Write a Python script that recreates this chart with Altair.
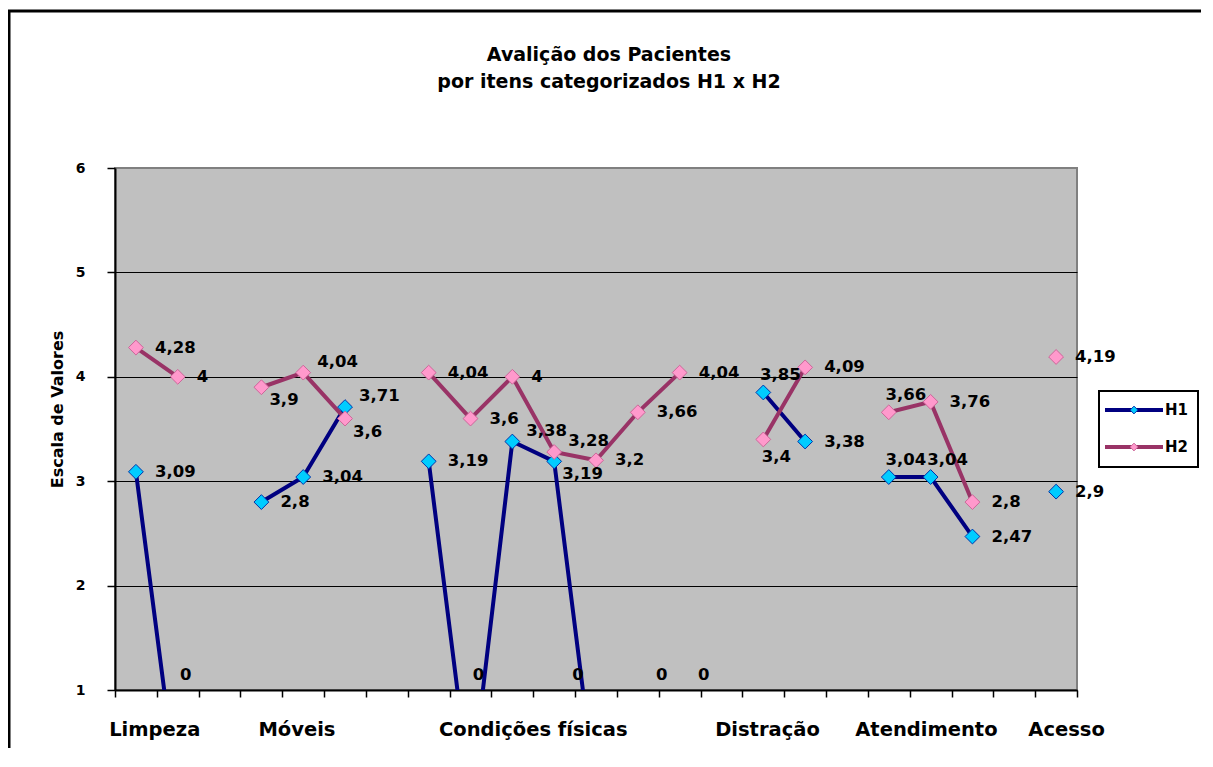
import altair as alt
import pandas as pd

# ---------------- data ----------------
SERIES = ["H1", "H2"]
N_CATS = 23
H1 = [3.09, 0, None, 2.8, 3.04, 3.71, None, 3.19, 0, 3.38, 3.19, 0, 0, 0, None,
      3.85, 3.38, None, 3.04, 3.04, 2.47, None, 2.9]
H2 = [4.28, 4, None, 3.9, 4.04, 3.6, None, 4.04, 3.6, 4, 3.28, 3.2, 3.66, 4.04, None,
      3.4, 4.09, None, 3.66, 3.76, 2.8, None, 4.19]
GROUPS = ["Limpeza", "Móveis", "Condições físicas", "Distração", "Atendimento", "Acesso"]
GROUP_POS = [0.95, 4.35, 10.0, 15.6, 19.4, 22.75]
Y_TICKS = [1, 2, 3, 4, 5, 6]

# label placement (layout only)
H1_PLACE = ["r", "z", "", "r", "r", "ru", "", "r", "z", "ru", "rd", "zl", "zr", "zr", "",
            "a", "r", "", "a", "a", "r", "", "r"]
H2_PLACE = ["r", "r", "", "rd", "ru", "rd", "", "r", "r", "r", "ru", "r", "r", "r", "",
            "b", "r", "", "a", "r", "r", "", "r"]
PLACEMENTS = {
    "r": ("left", 19, 0),
    "ru": ("left", 14, -11),
    "rd": ("left", 8, 13),
    "a": ("center", 17, -17),
    "b": ("center", 13, 18),
    "z": ("center", 8, -15),
    "zl": ("center", -18, -15),
    "zr": ("center", 24, -15),
}

LINE_COLORS = ["#000080", "#993366"]
MARK_FILL = ["#00CCFF", "#FF99CC"]
MARK_STROKE = ["#0033AA", "#CC6699"]
FONT = "DejaVu Sans"

rows = []
for s, vals, pl in (("H1", H1, H1_PLACE), ("H2", H2, H2_PLACE)):
    for i, v in enumerate(vals):
        rows.append({"series": s, "idx": i, "value": v, "place": pl[i]})
df = pd.DataFrame(rows)
groups_df = pd.DataFrame({"name": GROUPS, "pos": GROUP_POS})

W, H = 962, 522

xscale = alt.Scale(domain=[0, N_CATS], nice=False, zero=False)
yscale = alt.Scale(domain=[1, 6], nice=False, zero=False)

x_axis = alt.Axis(values=list(range(N_CATS + 1)), labels=False, ticks=True, tickSize=7,
                  tickColor="black", tickWidth=1.5, domainColor="black", domainWidth=2,
                  grid=False, title=None)
y_axis = alt.Axis(values=Y_TICKS, tickSize=8, tickColor="black", tickWidth=1.5,
                  domainColor="black", domainWidth=2, grid=True,
                  gridColor={"condition": {"test": "datum.value === 6", "value": "#808080"},
                             "value": "#000000"},
                  gridWidth=1, gridOpacity=1, labelFont=FONT, labelFontSize=14,
                  labelFontWeight="bold", labelColor="black", labelPadding=22,
                  title="Escala de Valores", titleFont=FONT, titleFontSize=16,
                  titleFontWeight="bold", titleColor="black", titleX=-58, titleY=241,
                  titleAngle=270, titleAlign="center", titleBaseline="middle")

X = dict(scale=xscale, axis=x_axis)
Y = dict(scale=yscale, axis=y_axis)

base = alt.Chart(df).transform_calculate(
    xc="datum.idx + 0.5",
    ylab="max(datum.value, 1)",
    lab="replace(toString(datum.value), '.', ',')",
)

lines = base.mark_line(strokeWidth=4, clip=True, invalid="break-paths-show-domains").encode(
    x=alt.X("xc:Q", **X),
    y=alt.Y("value:Q", **Y),
    color=alt.Color("series:N", scale=alt.Scale(domain=SERIES, range=LINE_COLORS), legend=None),
)

points = base.transform_filter("isValid(datum.value)").mark_point(
    shape="diamond", filled=True, size=220, strokeWidth=1, opacity=1, clip=True
).encode(
    x=alt.X("xc:Q", **X),
    y=alt.Y("value:Q", **Y),
    fill=alt.Fill("series:N", scale=alt.Scale(domain=SERIES, range=MARK_FILL), legend=None),
    stroke=alt.Stroke("series:N", scale=alt.Scale(domain=SERIES, range=MARK_STROKE), legend=None),
)

label_layers = []
for key, (align, dx, dy) in PLACEMENTS.items():
    label_layers.append(
        base.transform_filter(f"datum.place === '{key}'").mark_text(
            align=align, baseline="middle", dx=dx, dy=dy, font=FONT, fontSize=16.5,
            fontWeight="bold", color="black"
        ).encode(
            x=alt.X("xc:Q", **X),
            y=alt.Y("ylab:Q", **Y),
            text="lab:N",
        )
    )

group_labels = alt.Chart(groups_df).mark_text(
    align="center", baseline="middle", font=FONT, fontSize=19.5, fontWeight="bold", color="black"
).encode(
    x=alt.X("pos:Q", **X),
    y=alt.value(H + 40),
    text="name:N",
)

# legend (drawn manually to show line + diamond)
legend_layers = [
    alt.Chart(pd.DataFrame({"s": ["box"]})).mark_rect(
        fill="white", stroke="black", strokeWidth=2
    ).encode(x=alt.value(984), x2=alt.value(1083), y=alt.value(223), y2=alt.value(299))
]
for i, s in enumerate(SERIES):
    ldf = pd.DataFrame({"series": [s]})
    yy = 242 + 37 * i
    legend_layers.append(
        alt.Chart(ldf).mark_rule(color=LINE_COLORS[i], strokeWidth=4).encode(
            x=alt.value(990), x2=alt.value(1048), y=alt.value(yy))
    )
    legend_layers.append(
        alt.Chart(ldf).mark_point(shape="diamond", filled=True, size=60, opacity=1,
                                  fill=MARK_FILL[i], stroke=MARK_STROKE[i], strokeWidth=1
                                  ).encode(x=alt.value(1019), y=alt.value(yy))
    )
    legend_layers.append(
        alt.Chart(ldf).mark_text(align="left", baseline="middle", font=FONT, fontSize=15,
                                 fontWeight="bold", color="black"
                                 ).encode(x=alt.value(1050), y=alt.value(yy), text="series:N")
    )

# outer frame of the chart (top and left edges; right/bottom lie beyond the page)
frame_df = pd.DataFrame({"s": ["frame"]})
frame_top = alt.Chart(frame_df).mark_rule(color="black", strokeWidth=3).encode(
    x=alt.value(-107), x2=alt.value(1095), y=alt.value(-157))
frame_left = alt.Chart(frame_df).mark_rule(color="black", strokeWidth=3).encode(
    x=alt.value(-106), y=alt.value(-157), y2=alt.value(600))

chart = alt.layer(
    lines, points, *label_layers, group_labels, *legend_layers, frame_top, frame_left
).properties(
    width=W,
    height=H,
    title=alt.Title(
        ["Avalição dos Pacientes", "por itens categorizados H1 x H2"],
        font=FONT, fontSize=19, fontWeight="bold", color="black", anchor="middle",
        frame="group", lineHeight=27, offset=-82, dx=13,
    ),
    autosize=alt.AutoSizeParams(type="none"),
    padding={"left": 107, "top": 160, "right": 124, "bottom": 58},
).configure(
    background="white"
).configure_view(
    fill="#C0C0C0", stroke="#808080", strokeWidth=2
)

chart.save("out.html", embed_options={"renderer": "svg", "actions": False})
